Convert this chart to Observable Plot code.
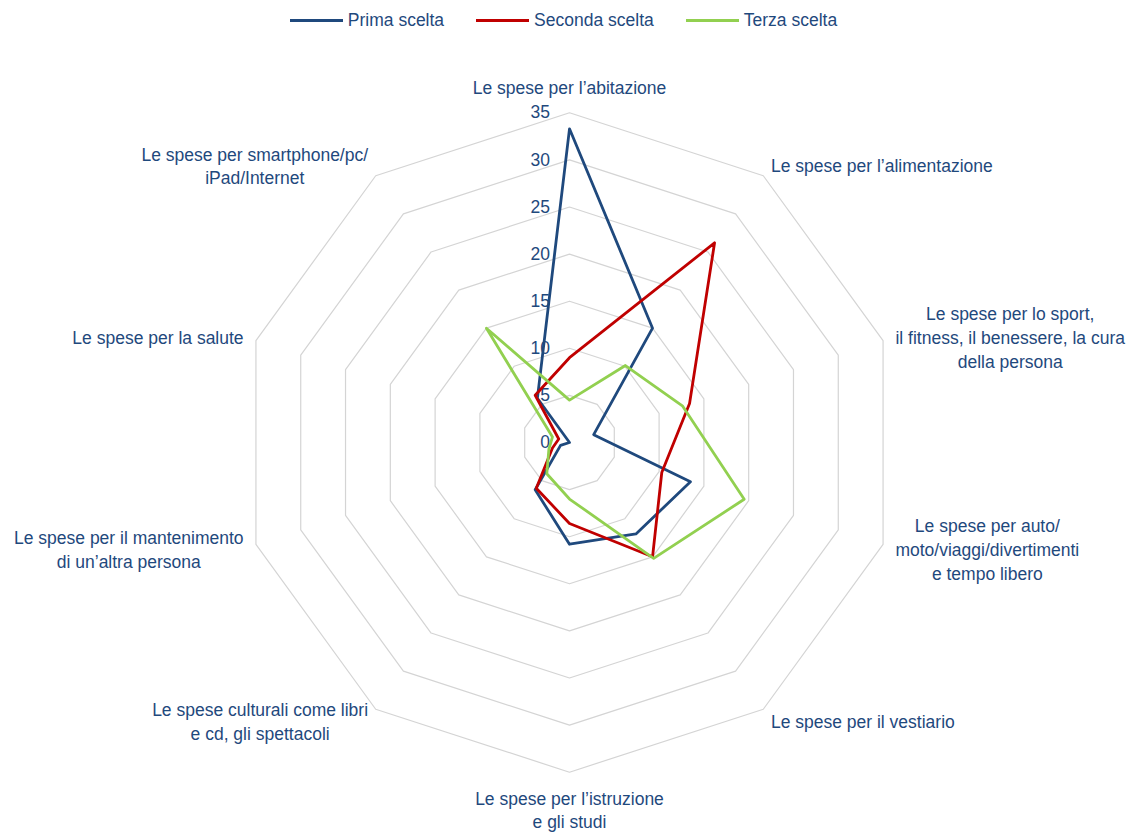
<!DOCTYPE html>
<html>
<head>
<meta charset="utf-8">
<script src="https://cdn.jsdelivr.net/npm/d3@7"></script>
<script src="https://cdn.jsdelivr.net/npm/@observablehq/plot@0.6"></script>
<style>
  html, body { margin: 0; padding: 0; background: #fff; }
  body { width: 1127px; height: 833px; overflow: hidden; font-family: "Liberation Sans", Arial, sans-serif; }
  #legend { height: 40px; display: flex; justify-content: center; align-items: center; gap: 32px; font-size: 17.5px; color: #1f497d; }
  .item { display: flex; align-items: center; }
  .swatch { width: 53px; height: 3px; margin-right: 5px; }
</style>
</head>
<body>
<div id="legend"></div>
<div id="chart"></div>
<script>
// ---- data ----
const categories = [
  "Le spese per l’abitazione",
  "Le spese per l’alimentazione",
  "Le spese per lo sport,\nil fitness, il benessere, la cura\ndella persona",
  "Le spese per auto/\nmoto/viaggi/divertimenti\ne tempo libero",
  "Le spese per il vestiario",
  "Le spese per l’istruzione\ne gli studi",
  "Le spese culturali come libri\ne cd, gli spettacoli",
  "Le spese per il mantenimento\ndi un’altra persona",
  "Le spese per la salute",
  "Le spese per smartphone/pc/\niPad/Internet"
];
const seriesNames = ["Prima scelta", "Seconda scelta", "Terza scelta"];
const prima   = [33.3, 15.0, 2.7, 13.5, 12.0, 10.8, 6.2, 1.0, 0.0, 5.8];
const seconda = [9.0, 26.2, 13.4, 10.3, 15.0, 8.6, 6.0, 1.9, 1.2, 6.2];
const terza   = [4.5, 10.1, 12.6, 19.5, 15.2, 6.0, 4.1, 2.3, 1.9, 15.0];
const ticks = [0, 5, 10, 15, 20, 25, 30, 35];
const seriesColors = ["#1f497d", "#c00000", "#92d050"];

// ---- layout ----
const W = 1127, H = 793;
const cx = 569, cy = 402;       // centre in SVG pixels
const Rpx = 329.7;               // radius of the outer ring (35)
const maxV = 35;
const k = maxV / Rpx;            // data units per pixel
const textColor = "#1f497d";
const fontSize = 17.5;
const fontFamily = "'Liberation Sans', Arial, sans-serif";
const n = categories.length;
const ang = i => i * 2 * Math.PI / n;

// legend
const legend = document.getElementById("legend");
seriesNames.forEach((s, i) => {
  const it = document.createElement("div");
  it.className = "item";
  const sw = document.createElement("span");
  sw.className = "swatch";
  sw.style.background = seriesColors[i];
  const tx = document.createElement("span");
  tx.textContent = s;
  it.appendChild(sw); it.appendChild(tx);
  legend.appendChild(it);
});

// rings
const ringLevels = ticks.filter(t => t > 0);
const ringPts = ringLevels.flatMap(l => categories.map((c, i) => ({level: l, x: l * Math.sin(ang(i)), y: l * Math.cos(ang(i))})));

// series points
const allSeries = [prima, seconda, terza];
const seriesPts = allSeries.flatMap((vals, s) => vals.map((v, i) => ({series: seriesNames[s], x: v * Math.sin(ang(i)), y: v * Math.cos(ang(i))})));

// measure label widths
const ctx = document.createElement("canvas").getContext("2d");
ctx.font = `${fontSize}px ${fontFamily}`;
const blockWidth = t => Math.max(...t.split("\n").map(l => ctx.measureText(l).width));
const lineH = 1.35;

const labelMarks = categories.map((c, i) => {
  const a = ang(i), s = Math.sin(a), co = Math.cos(a);
  const nLines = c.split("\n").length;
  let dx = 0, dy = 0;
  if (Math.abs(s) < 0.01) {
    if (co > 0) dy = -26 - (nLines - 1) * lineH * fontSize / 2;
    else dy = 25 + (nLines - 1) * lineH * fontSize / 2;
  } else {
    const pad = 13 * Math.abs(s);
    dx = Math.sign(s) * (pad + blockWidth(c) / 2);
    dy = -co * 13.5;
  }
  return Plot.text([c], {
    x: () => maxV * Math.sin(a),
    y: () => maxV * Math.cos(a),
    text: d => d,
    dx, dy,
    textAnchor: "middle",
    lineAnchor: "middle",
    lineHeight: lineH,
    fill: textColor,
    fontSize
  });
});

const chart = Plot.plot({
  width: W,
  height: H,
  margin: 0,
  x: {domain: [-cx * k, (W - cx) * k], axis: null},
  y: {domain: [-(H - cy) * k, cy * k], axis: null},
  color: {domain: seriesNames, range: seriesColors},
  style: {fontFamily, fontSize: fontSize + "px", background: "white"},
  marks: [
    Plot.line(ringPts, {x: "x", y: "y", z: "level", curve: "linear-closed", stroke: "#d4d4d4", strokeWidth: 1.2}),
    Plot.text(ticks, {x: () => 0, y: d => d, text: d => String(d), textAnchor: "end", dx: -19.5, fill: textColor, fontSize}),
    Plot.line(seriesPts, {x: "x", y: "y", z: "series", stroke: "series", curve: "linear-closed", strokeWidth: 2.8}),
    ...labelMarks
  ]
});
document.getElementById("chart").appendChild(chart);
</script>
</body>
</html>
